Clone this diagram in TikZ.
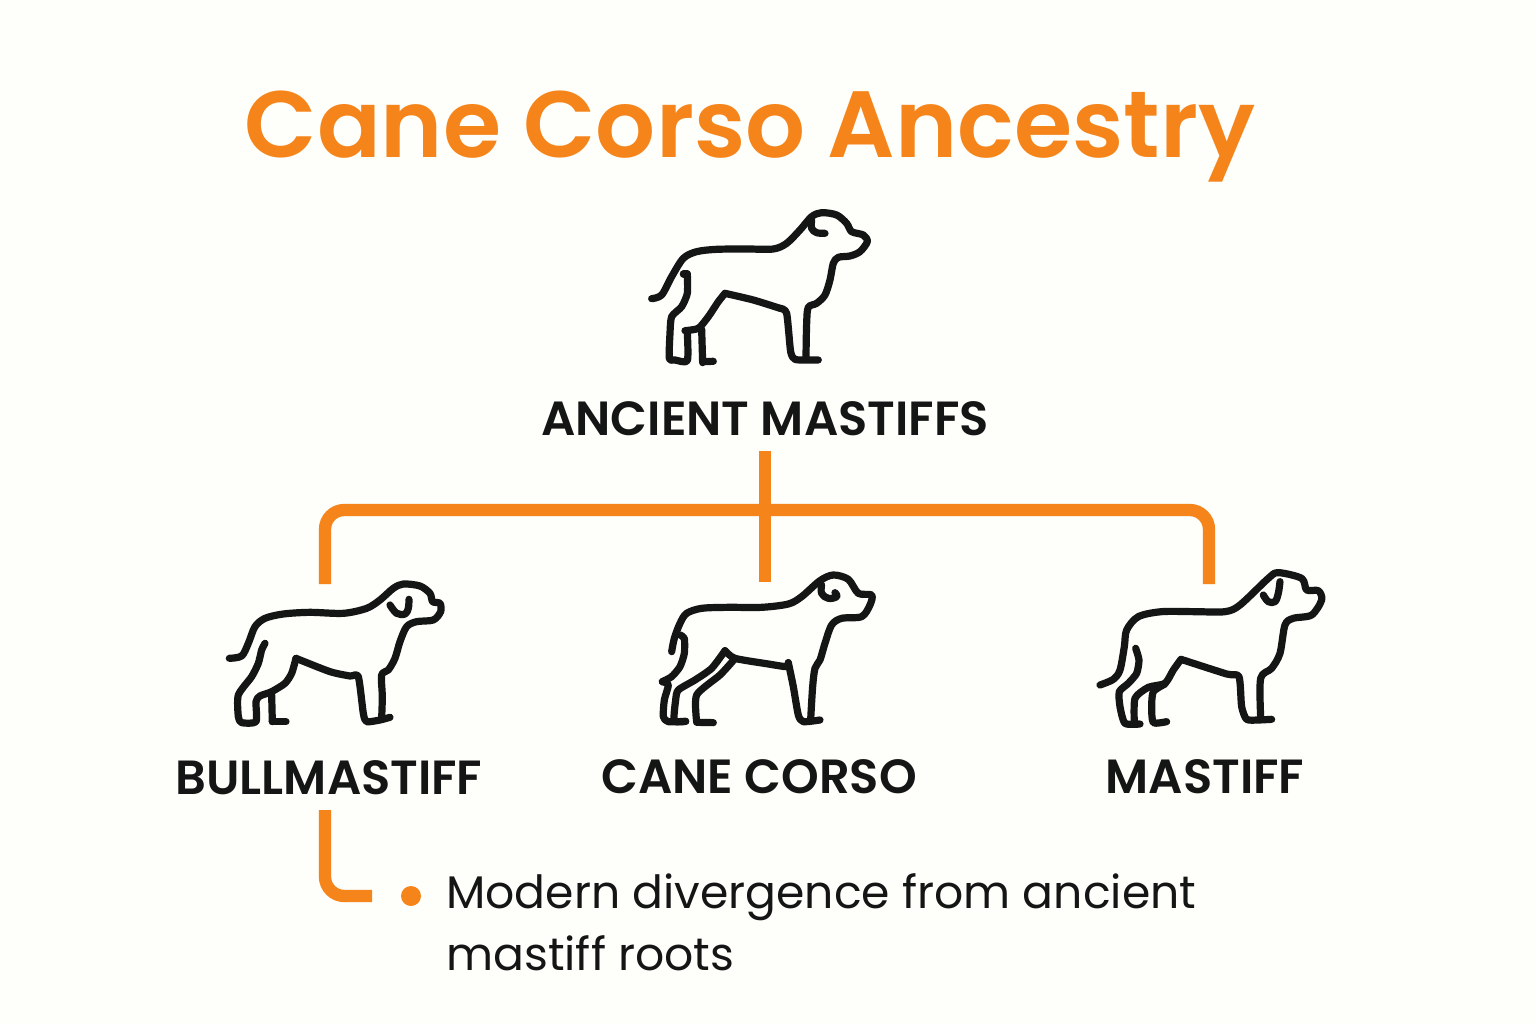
\documentclass[tikz,border=0pt]{standalone}
\usepackage{fontspec}
\setmainfont{Poppins}
\newfontfamily\headfont{Poppins SemiBold}
\usepackage{xcolor}
\usetikzlibrary{positioning,calc}
\definecolor{pagebg}{HTML}{FEFEFA}
\definecolor{branchorange}{HTML}{F5851A}
\definecolor{inkblack}{HTML}{141616}
\tikzset{
	dogline/.style={draw=inkblack, line width=4.1pt, line cap=round, line join=round},
	branch/.style={draw=branchorange, line width=7pt, rounded corners=11pt},
	breedname/.style={text=inkblack, font=\fontsize{27.3}{30}\headfont, inner sep=0pt},
}
\begin{document}
\begin{tikzpicture}[x=0.02cm,y=-0.02cm]
	\useasboundingbox (0,0) rectangle (1536,1024);
	\fill[pagebg] (0,0) rectangle (1536,1024);
	
	% ===== tieu de =====
	\node[text=branchorange, font=\fontsize{53.6}{60}\headfont, inner sep=0pt] (title) at (750,137) {Cane Corso Ancestry};
	
	% ===== nhan =====
	\node[breedname] (ancient) at (765,419) {ANCIENT MASTIFFS};
	\node[breedname] (bullmastiff) at (329,778) {BULLMASTIFF};
	\node[breedname] (canecorso) at (759,777) {CANE CORSO};
	\node[breedname] (mastiff) at (1205,777) {MASTIFF};
	
	% ===== ghi chu =====
	\fill[branchorange] (411,896) circle (10);
	\node[text=inkblack, font=\fontsize{26}{35.2}\selectfont, anchor=north west, align=left, inner sep=0pt] (note) at (446,873) {Modern divergence from ancient\\mastiff roots};
	
	% ===== cac nhanh =====
	\coordinate (trunktop) at (765,451);
	\coordinate (trunkend) at (765,582);
	\coordinate (bullend) at (325,584);
	\coordinate (mastend) at (1209,584);
	\coordinate (stemtop) at (325,810);
	\coordinate (stemend) at (372,896);
	\draw[branch] (trunktop) -- (trunkend);
	\draw[branch] (bullend) |- (765,510) -| (mastend);
	\draw[branch] (stemtop) |- (stemend);
	
	% ===== cho: ancient mastiffs =====
	\begin{scope}[shift={(630,200)},scale=0.3333]
		\draw[dogline] plot[smooth,tension=0.5] coordinates {(65,296) (95,285) (125,230) (160,175) (200,155) (260,148) (350,147) (430,147) (470,130) (510,90) (545,50) (575,38) (620,45) (650,70) (665,95) (700,105) (712,125) (690,155) (660,168) (625,172) (610,190) (600,240) (585,285) (560,310) (535,322) (530,370) (528,475)};
		\draw[dogline] plot[smooth,tension=0.4] coordinates {(565,480) (525,480) (495,478) (482,455) (470,340) (450,325)};
		\draw[dogline] plot[smooth,tension=0.4] coordinates {(450,325) (370,300) (285,280)};
		\draw[dogline] plot[smooth,tension=0.4] coordinates {(285,280) (265,305) (235,350) (205,385) (165,392)};
		\draw[dogline] plot[smooth,tension=0.4] coordinates {(172,222) (160,222)};
		\draw[dogline] plot[smooth,tension=0.4] coordinates {(172,222) (172,280) (155,320) (125,350) (120,400) (118,475) (135,480) (172,482) (172,400)};
		\draw[dogline] plot[smooth,tension=0.4] coordinates {(215,388) (218,488)};
		\draw[dogline] (218,485) -- (250,484);
		\draw[dogline] plot[smooth,tension=0.6] coordinates {(545,60) (545,85) (560,98) (585,100)};
	\end{scope}
	
	% ===== cho: bullmastiff =====
	\begin{scope}[shift={(210,570)},scale=0.3333]
		\draw[dogline] plot[smooth,tension=0.5] coordinates {(58,265) (95,258) (115,220) (135,170) (165,145) (220,132) (300,127) (400,130) (470,115) (510,90) (550,55) (580,42) (630,48) (660,70) (668,95) (690,100) (692,125) (670,150) (620,155) (590,170) (570,215) (555,265) (535,300) (515,315) (517,380) (515,445)};
		\draw[dogline] plot[smooth,tension=0.4] coordinates {(540,442) (510,450) (470,455) (460,430) (445,320) (420,318) (360,305) (258,265)};
		\draw[dogline] plot[smooth,tension=0.4] coordinates {(258,265) (245,310) (225,340) (185,365) (150,378) (138,395) (138,455) (95,458) (85,440) (85,375) (125,320) (145,280) (155,240) (165,220)};
		\draw[dogline] plot[smooth,tension=0.4] coordinates {(185,375) (187,455)};
		\draw[dogline] (187,455) -- (228,455);
		\draw[dogline] plot[smooth,tension=0.6] coordinates {(540,105) (560,130) (585,132) (595,115) (597,88)};
	\end{scope}
	
	% ===== cho: cane corso =====
	\begin{scope}[shift={(645,560)},scale=0.3333]
		\draw[dogline] plot[smooth,tension=0.5] coordinates {(80,275) (88,235) (105,190) (125,160) (170,145) (250,142) (350,142) (430,132) (470,110) (525,62) (565,45) (610,58) (640,100) (680,105) (675,135) (650,170) (590,175) (560,195) (540,250) (525,300) (510,325) (503,380) (497,480)};
		\draw[dogline] plot[smooth,tension=0.4] coordinates {(525,480) (475,485) (460,465) (445,380) (430,308)};
		\draw[dogline] plot[smooth,tension=0.4] coordinates {(430,308) (425,320) (370,312) (270,295) (240,272)};
		\draw[dogline] plot[smooth,tension=0.4] coordinates {(240,272) (200,325) (150,360) (100,390) (92,420) (88,482) (122,484)};
		\draw[dogline] plot[smooth,tension=0.4] coordinates {(105,225) (118,235) (118,280) (105,320) (80,350) (52,365)};
		\draw[dogline] plot[smooth,tension=0.4] coordinates {(52,365) (70,375) (58,420) (55,470) (70,485) (122,484)};
		\draw[dogline] plot[smooth,tension=0.4] coordinates {(268,298) (225,345) (155,405) (155,485)};
		\draw[dogline] (155,487) -- (205,488);
		\draw[dogline] plot[smooth,tension=0.7] coordinates {(530,75) (530,100) (550,115) (575,110) (570,98)};
	\end{scope}
	
	% ===== cho: mastiff =====
	\begin{scope}[shift={(1085,560)},scale=0.3333]
		\draw[dogline] plot[smooth,tension=0.5] coordinates {(45,375) (85,358) (105,330) (118,260) (125,210) (160,170) (230,155) (330,155) (420,155) (465,135) (550,55) (580,38) (650,55) (665,90) (700,92) (710,120) (680,165) (625,175) (600,195) (585,280) (560,325) (527,355) (527,470)};
		\draw[dogline] plot[smooth,tension=0.4] coordinates {(560,478) (520,480) (485,478) (470,440) (462,350) (425,342) (288,298)};
		\draw[dogline] plot[smooth,tension=0.4] coordinates {(288,298) (265,330) (240,370) (190,382) (150,415) (148,490)};
		\draw[dogline] plot[smooth,tension=0.4] coordinates {(165,492) (120,490) (105,440) (103,395) (130,370) (155,340) (162,300) (152,265)};
		\draw[dogline] plot[smooth,tension=0.4] coordinates {(240,372) (205,395) (200,440) (205,488) (245,485)};
		\draw[dogline] plot[smooth,tension=0.6] coordinates {(585,65) (580,100) (570,125) (550,125) (535,105)};
	\end{scope}
\end{tikzpicture}
\end{document}
